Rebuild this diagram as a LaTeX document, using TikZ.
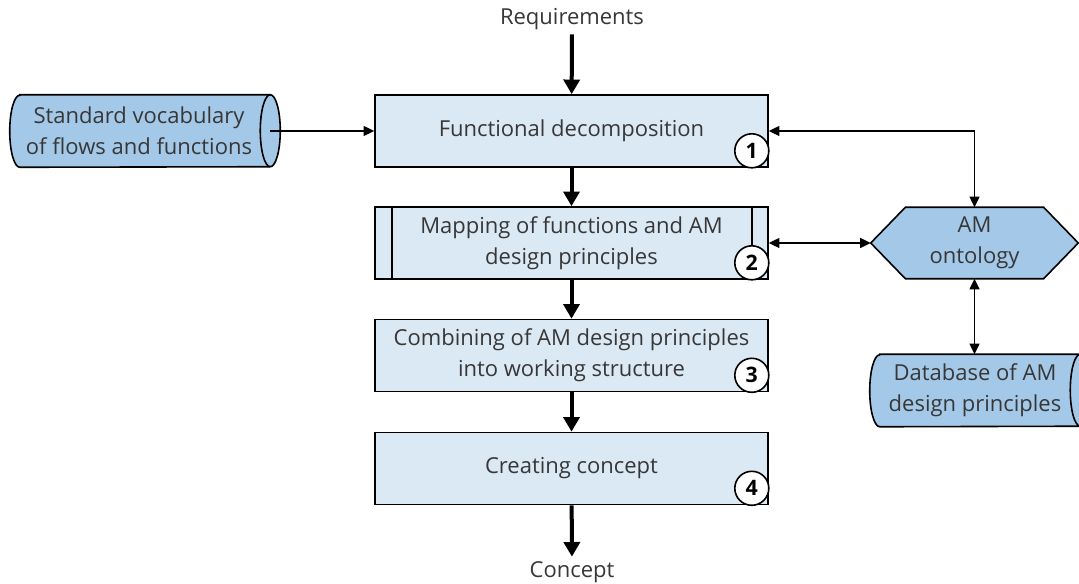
\documentclass[tikz,border=0pt]{standalone}
\usepackage{fontspec}
\setmainfont{Open Sans}
\usetikzlibrary{arrows.meta,calc}

\definecolor{procfill}{RGB}{219,233,245}
\definecolor{datafill}{RGB}{164,201,232}
\definecolor{txtgray}{RGB}{55,55,55}

\tikzset{
  proc/.style={draw,line width=1.2pt,fill=procfill,minimum width=294.75pt,minimum height=54pt,align=center,inner sep=0pt},
  numcirc/.style={draw,circle,line width=1.2pt,fill=white,minimum size=25.5pt,inner sep=0pt,
                  font=\fontsize{16}{18}\selectfont\bfseries,text=black},
  plain/.style={inner sep=0pt,align=center},
  outline/.style={draw,line width=1.2pt,fill=datafill},
  flow/.style={-{Triangle[width=12pt,length=11pt]},line width=3pt},
  link/.style={-{Triangle[width=7.5pt,length=8pt]},line width=1.1pt},
  both/.style={{Triangle[width=7.5pt,length=8pt]}-{Triangle[width=7.5pt,length=8pt]},line width=1.1pt},
}

% horizontal cylinder drawn round a node: half ellipse on the left, full one on the right
\newcommand{\storeshape}[1]{%
  \draw[outline] (#1.north west) -- (#1.north east)
    arc[start angle=90,end angle=-90,x radius=7.5pt,y radius=27pt]
    -- (#1.south west) arc[start angle=270,end angle=90,x radius=7.5pt,y radius=27pt] -- cycle;
  \draw[line width=1.2pt] (#1.north east) arc[start angle=90,end angle=270,x radius=7.5pt,y radius=27pt];}

\begin{document}
\begin{tikzpicture}[x=0.75pt,y=-0.75pt,font=\fontsize{16.5}{23.5}\selectfont,text=txtgray]
  \useasboundingbox (0,0) rectangle (1079,584);
  \clip (0,0) rectangle (1079,584);

  % main process chain
  \node[proc] (f1) at (571.5,131) {Functional decomposition};
  \node[proc] (f2) at (571.5,243) {Mapping of functions and AM\\design principles};
  \node[proc] (f3) at (571.5,355.5) {Combining of AM design principles\\into working structure};
  \node[proc] (f4) at (571.5,468.5) {Creating concept};

  \node (req) at (572,19) {Requirements};
  \node (concept) at (572,572) {Concept};

  % predefined process bars
  \draw[line width=1.2pt] ($(f2.north west)+(13.5pt,0)$) -- ($(f2.south west)+(13.5pt,0)$);

  \foreach \i in {1,...,4}{% step numbers in the corner
    \node[numcirc] (n\i) at ($(f\i.south east)+(-12.75pt,12.75pt)$) {\i};}

  \draw[line width=1.2pt] ($(f2.north east)+(-12.75pt,0)$) -- (n2.north);

  % stores
  \node[plain,minimum width=187.5pt,minimum height=54pt] (vocab) at (145,131) {};
  \storeshape{vocab}
  \node[plain] at (139,131) {Standard vocabulary\\of flows and functions};

  \node[plain,minimum width=150pt,minimum height=54pt] (db) at (980,390.5) {};
  \storeshape{db}
  \node[plain] at (975,390.5) {Database of AM\\design principles};

  % ontology hexagon
  \node[plain,minimum width=155.25pt,minimum height=53.25pt] (onto) at (974.5,243) {};
  \draw[outline] (onto.west) -- ($(onto.north west)+(26pt,0)$) -- ($(onto.north east)+(-26pt,0)$)
    -- (onto.east) -- ($(onto.south east)+(-26pt,0)$) -- ($(onto.south west)+(26pt,0)$) -- cycle;
  \node[plain] at (onto) {AM\\ontology};

  % arrows
  \draw[flow] (req) -- (f1);
  \draw[flow] (f1) -- (f2);
  \draw[flow] (f2) -- (f3);
  \draw[flow] (f3) -- (f4);
  \draw[flow] (f4) -- (concept);

  \draw[link] (vocab.east) -- (f1.west);
  \draw[both] (f1.east) -| (onto.north);
  \draw[both] (f2.east) -- (onto.west);
  \draw[both] (onto.south) -- (onto.south |- db.north);
\end{tikzpicture}
\end{document}
